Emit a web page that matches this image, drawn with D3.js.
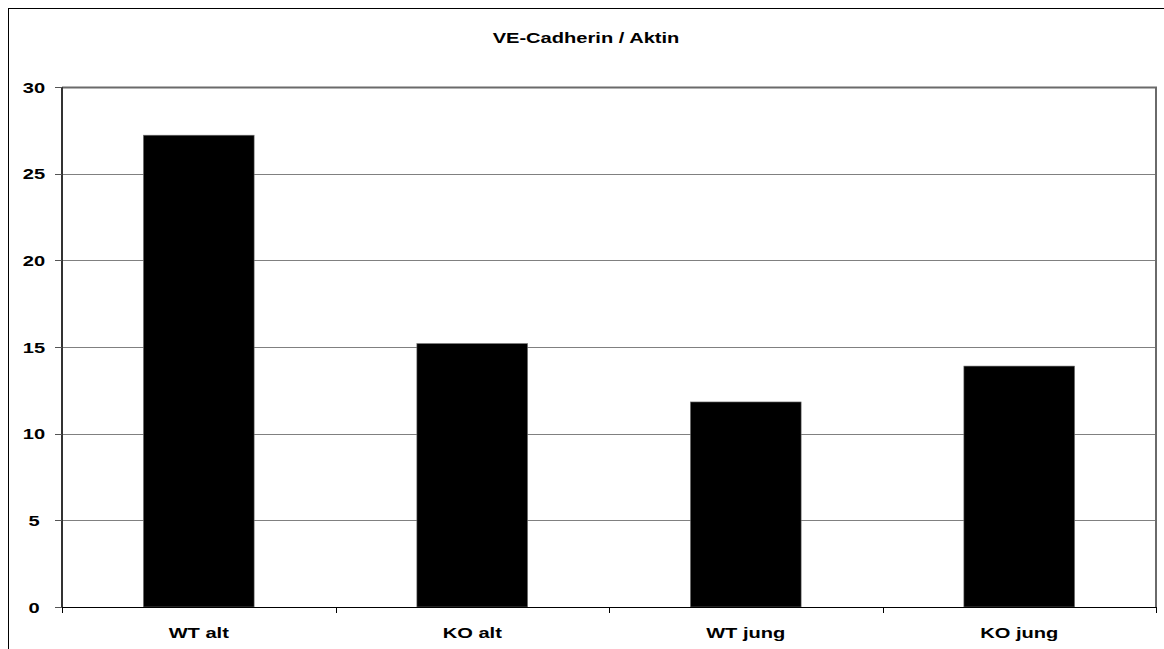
<!DOCTYPE html>
<html lang="de">
<head>
  <meta charset="UTF-8">
  <title>VE-Cadherin / Aktin</title>
  <script src="https://cdn.jsdelivr.net/npm/d3@7"></script>
  <style>
    body { margin: 0; background: #fff; }
    text { font-family: "Liberation Sans", Arial, sans-serif; font-weight: bold; fill: #000; }
  </style>
</head>
<body>
  <svg width="1164" height="649" id="main"></svg>
<script>
  // data
  const categories = ['WT alt', 'KO alt', 'WT jung', 'KO jung'];
  const values = [27.22, 15.2, 11.83, 13.9];
  const yTicks = [0, 5, 10, 15, 20, 25, 30];
  const title = 'VE-Cadherin / Aktin';

  const svg = d3.select('#main');
  const plot = { left: 62, right: 1156, top: 87, bottom: 607 };
  const sx = 1.34; // text is stretched horizontally in the original

  // outer frame (runs off the right/bottom edge)
  svg.append('rect')
    .attr('x', 8.5).attr('y', 8.5)
    .attr('width', 1200).attr('height', 700)
    .attr('fill', 'none').attr('stroke', '#000');

  const x = d3.scaleBand().domain(categories).range([plot.left, plot.right]).padding(0);
  const y = d3.scaleLinear().domain([0, 30]).range([plot.bottom, plot.top]);
  const barW = x.bandwidth() * 0.405;

  // gridlines
  svg.append('g')
    .selectAll('line')
    .data(yTicks.filter(d => d > 0 && d < 30))
    .join('line')
    .attr('x1', plot.left).attr('x2', plot.right)
    .attr('y1', d => Math.round(y(d)) + 0.5).attr('y2', d => Math.round(y(d)) + 0.5)
    .attr('stroke', '#808080');

  // plot border top/right
  svg.append('path')
    .attr('d', `M${plot.left},${plot.top + 0.5}H${plot.right}V${plot.bottom}`)
    .attr('fill', 'none').attr('stroke', '#6a6a6a').attr('stroke-width', 2);

  // bars
  svg.append('g')
    .selectAll('rect')
    .data(values)
    .join('rect')
    .attr('x', (d, i) => x(categories[i]) + x.bandwidth() / 2 - barW / 2)
    .attr('width', barW)
    .attr('y', d => y(d))
    .attr('height', d => y(0) - y(d))
    .attr('fill', '#000')
    .attr('stroke', '#777')
    .attr('stroke-width', 0.6);

  // y axis
  const yAxis = svg.append('g');
  yAxis.append('line')
    .attr('x1', plot.left).attr('x2', plot.left)
    .attr('y1', plot.top).attr('y2', plot.bottom)
    .attr('stroke', '#333').attr('stroke-width', 2);
  yAxis.selectAll('line.tick')
    .data(yTicks)
    .join('line')
    .attr('class', 'tick')
    .attr('x1', plot.left - 7).attr('x2', plot.left)
    .attr('y1', d => Math.round(y(d)) + 0.5).attr('y2', d => Math.round(y(d)) + 0.5)
    .attr('stroke', '#555');
  yAxis.selectAll('text')
    .data(yTicks)
    .join('text')
    .attr('text-anchor', 'middle')
    .attr('font-size', 15)
    .attr('transform', d => `translate(34,${y(d) + 5.5}) scale(${sx},1)`)
    .text(d => d);

  // x axis
  const xAxis = svg.append('g');
  xAxis.append('line')
    .attr('x1', plot.left).attr('x2', plot.right)
    .attr('y1', plot.bottom + 0.5).attr('y2', plot.bottom + 0.5)
    .attr('stroke', '#000');
  xAxis.selectAll('line.tick')
    .data(categories.concat(['end']))
    .join('line')
    .attr('class', 'tick')
    .attr('x1', (d, i) => Math.round(plot.left + i * x.step()) + 0.5)
    .attr('x2', (d, i) => Math.round(plot.left + i * x.step()) + 0.5)
    .attr('y1', plot.bottom).attr('y2', plot.bottom + 6)
    .attr('stroke', '#000');
  xAxis.selectAll('text')
    .data(categories)
    .join('text')
    .attr('text-anchor', 'middle')
    .attr('font-size', 15)
    .attr('transform', d => `translate(${x(d) + x.bandwidth() / 2},638) scale(${sx},1)`)
    .text(d => d);

  // title
  svg.append('text')
    .attr('text-anchor', 'middle')
    .attr('font-size', 15)
    .attr('transform', `translate(586,43) scale(${sx},1)`)
    .text(title);
</script>
</body>
</html>
